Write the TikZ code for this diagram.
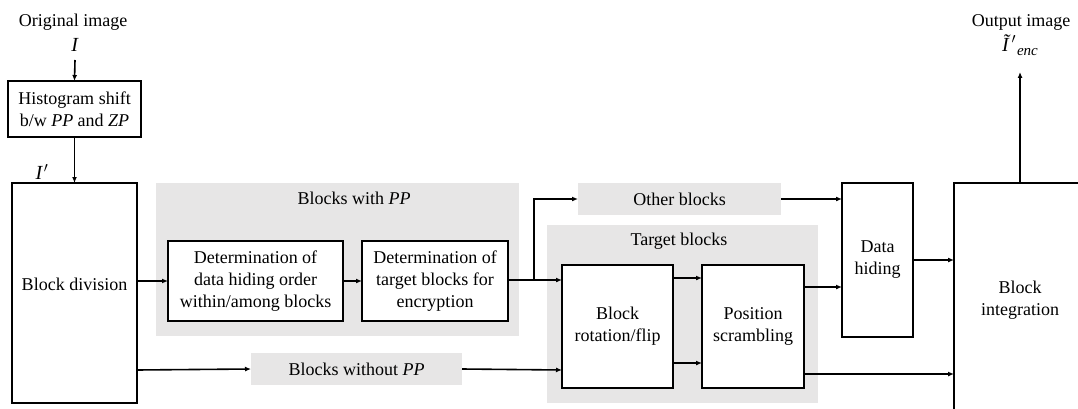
\documentclass[tikz,border=0pt]{standalone}
\usepackage{fontspec}
\setmainfont{Liberation Serif}
\newfontfamily\lserif{Liberation Serif}
\usetikzlibrary{arrows.meta,calc}
\definecolor{panelgray}{RGB}{231,230,230}
\begin{document}
\begin{tikzpicture}[x=1pt,y=-1pt,
  every node/.style={font=\lserif\fontsize{18}{22}\selectfont, inner sep=0pt, outer sep=0pt},
  box/.style={draw=black, line width=1.6pt, fill=white, align=center, rectangle},
  panel/.style={fill=panelgray, draw=none, rectangle},
  mathlbl/.style={font=\lserif\fontsize{20}{22}\selectfont},
  arr/.style={line width=1.6pt, -{Latex[length=6pt,width=5pt]}}]
\useasboundingbox (0,0) rectangle (1078,409);
\clip (0,0) rectangle (1078,409);

% panels
\node[panel, minimum width=363, minimum height=153] (pwith) at (337.5,259.5) {};
\node[panel, minimum width=203, minimum height=32] (other) at (679.5,199) {Other blocks};
\node[panel, minimum width=271, minimum height=178] (ptarget) at (682.5,314) {};
\node[panel, minimum width=211, minimum height=32] (without) at (356.5,369) {Blocks without \textit{PP}};
\node (twith) at (354,198) {Blocks with \textit{PP}};
\node (ttarget) at (679,241) {Target blocks};

% labels
\node (orig) at (73,22) {Original image};
\node[mathlbl] (iin) at (75,45) {\textit{I}};
\node[mathlbl] (iprime) at (42,172) {\textit{I}\kern1pt$'$};
\node (outl) at (1021,22) {Output image};
\node[mathlbl] (iout) at (1020,45) {\textit{Ĩ}\kern1pt$'$\kern1pt\raisebox{-4pt}{\fontsize{15}{15}\selectfont\textit{enc}}};

% boxes
\node[box, minimum width=133, minimum height=56] (hist) at (74.5,109) {Histogram shift\\b/w \textit{PP} and \textit{ZP}};
\node[box, minimum width=125, minimum height=220] (bd) at (74.5,293) {};
\node (bdt) at (74.5,284) {Block division};
\node[box, minimum width=175, minimum height=80] (det1) at (255.5,281) {Determination of\\data hiding order\\within/among blocks};
\node[box, minimum width=146, minimum height=80] (det2) at (435,281) {Determination of\\target blocks for\\encryption};
\node[box, minimum width=111, minimum height=123] (rot) at (617.5,326.5) {Block\\rotation/flip};
\node[box, minimum width=102, minimum height=123] (pos) at (753,326.5) {Position\\scrambling};
\node[box, minimum width=71, minimum height=154] (dh) at (877.5,260) {Data\\hiding};
\node[box, minimum width=132, minimum height=234] (bi) at (1020,300) {Block\\integration};

% helper ordinates
\coordinate (y60) at (75,60);
\coordinate (y72) at (1020,72);
\coordinate (y278) at (0,278);
\coordinate (y280) at (0,280);
\coordinate (y287) at (0,287);
\coordinate (y363) at (0,363);
\coordinate (y370) at (0,370);
\coordinate (y374) at (0,374);
\coordinate (y260) at (0,260);
\coordinate (xbr) at (534,0);

% connectors
\draw[arr] (y60) -- (hist.north);
\draw[arr] (hist.south) -- (bd.north);
\draw[arr] (bd.east |- det1) -- (det1.west);
\draw[arr] (det1.east) -- (det2.west);
\draw[arr] (det2.east |- y280) -- (rot.west |- y280);
\draw[arr] (xbr |- y280) -- (xbr |- other) -- (other.west);
\draw[arr] (bd.east |- y370) -- (without.west);
\draw[arr] (without.east) -- (rot.west |- y370);
\draw[arr] (rot.east |- y278) -- (pos.west |- y278);
\draw[arr] (rot.east |- y363) -- (pos.west |- y363);
\draw[arr] (other.east) -- (dh.west |- other);
\draw[arr] (pos.east |- y287) -- (dh.west |- y287);
\draw[arr] (dh.east |- y260) -- (bi.west |- y260);
\draw[arr] (pos.east |- y374) -- (bi.west |- y374);
\draw[arr] (bi.north) -- (y72);
\end{tikzpicture}
\end{document}
